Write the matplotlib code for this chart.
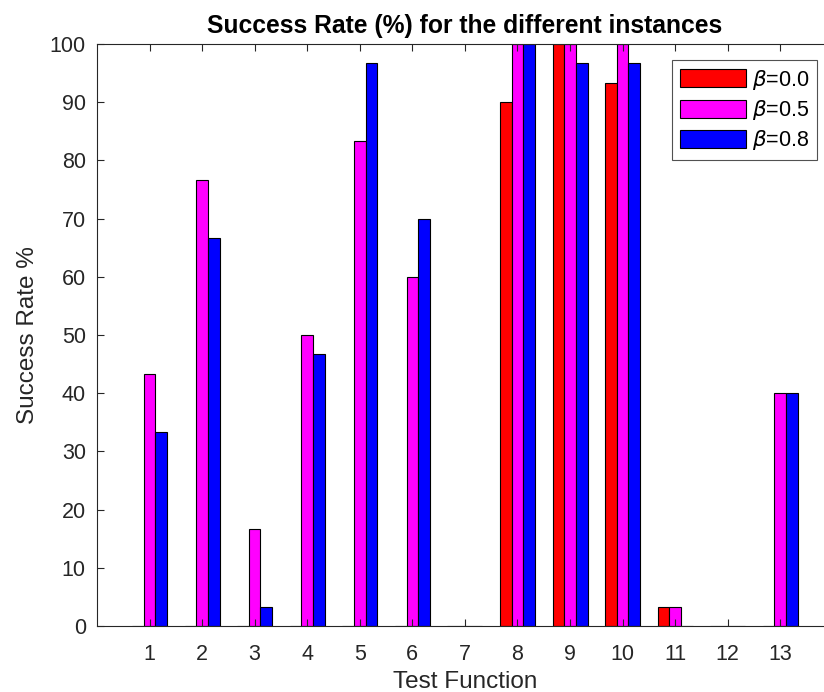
import numpy as np
import matplotlib
matplotlib.use("Agg")
import matplotlib.pyplot as plt

plt.rcParams['font.family'] = ['Liberation Sans', 'DejaVu Sans']
plt.rcParams['mathtext.fontset'] = 'dejavusans'

functions = list(range(1, 14))
sr_00 = [0, 0, 0, 0, 0, 0, 0, 90, 100, 93.33, 3.33, 0, 0]
sr_05 = [43.33, 76.67, 16.67, 50, 83.33, 60, 0, 100, 100, 100, 3.33, 0, 40]
sr_08 = [33.33, 66.67, 3.33, 46.67, 96.67, 70, 0, 100, 96.67, 96.67, 0, 0, 40]
labels = [r'$\beta$=0.0', r'$\beta$=0.5', r'$\beta$=0.8']
colors = ['#ff0000', '#ff00ff', '#0000ff']

fig = plt.figure(figsize=(8.24, 6.92), dpi=100)
ax = fig.add_axes([0.1177, 0.0954, 0.893, 0.841])

x = np.array(functions)
w = 0.222
for k, (vals, lab, c) in enumerate(zip([sr_00, sr_05, sr_08], labels, colors)):
    ax.bar(x + (k - 1) * w, vals, width=w, color=c, edgecolor='black',
           linewidth=0.8, label=lab)

ax.set_xlim(0, 14)
ax.set_ylim(0, 100)
ax.set_xticks(functions)
ax.set_yticks(range(0, 101, 10))
ax.tick_params(direction='in', top=True, right=True, labelsize=15.5,
               colors='#262626', length=5, width=0.8)
ax.tick_params(axis='x', pad=13)
ax.tick_params(axis='y', pad=8)
for s in ax.spines.values():
    s.set_color('#262626')
    s.set_linewidth(0.8)

ax.set_title('Success Rate (%) for the different instances', fontsize=17.7,
             fontweight='bold', pad=8)
ax.set_xlabel('Test Function', fontsize=17.5, color='#262626', labelpad=4)
ax.set_ylabel('Success Rate %', fontsize=17.5, color='#262626', labelpad=8)

leg = ax.legend(loc='upper right', bbox_to_anchor=(0.978, 0.9725),
                fontsize=15.5, frameon=True, fancybox=False, edgecolor='#262626',
                handlelength=3.1, handleheight=0.9, borderpad=0.35,
                labelspacing=0.3, handletextpad=0.25, borderaxespad=0)
leg.get_frame().set_linewidth(0.8)

fig.savefig('out.png', dpi=100)
